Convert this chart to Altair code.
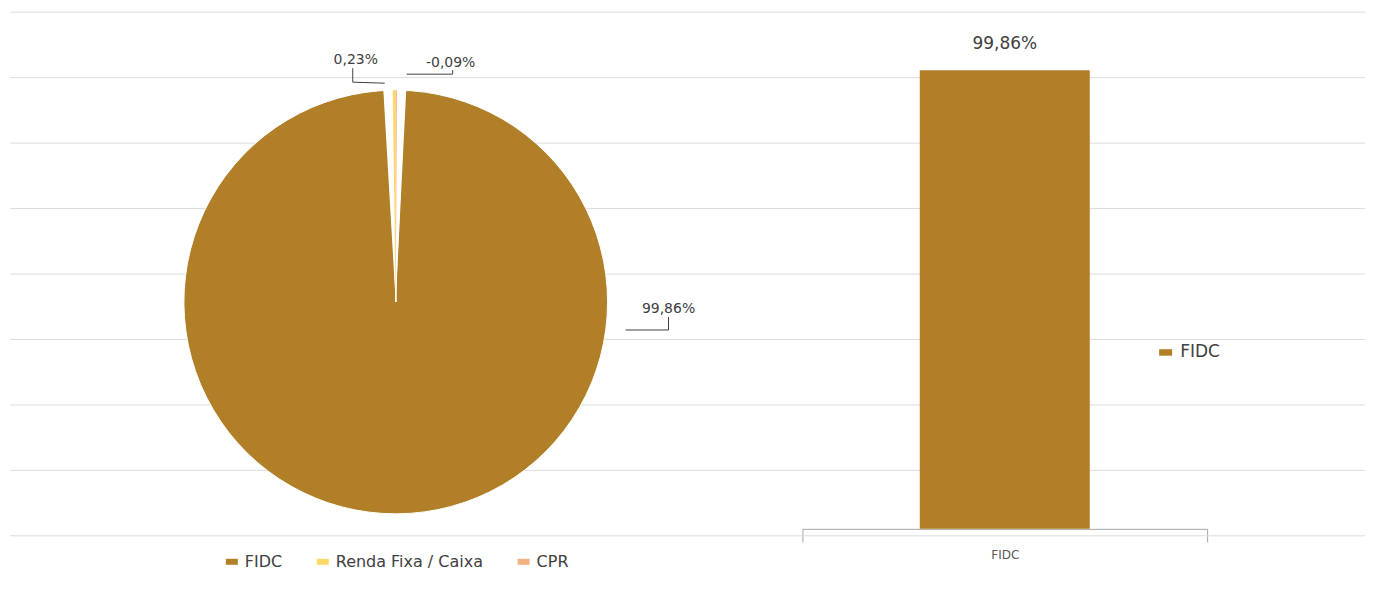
import altair as alt
import pandas as pd

# ---- data ----
categories = ["FIDC", "Renda Fixa / Caixa", "CPR"]
values = [99.86, 0.23, -0.09]
colors = ["#B07F27", "#FFD966", "#F4B183"]
slice_order = ["CPR", "FIDC", "Renda Fixa / Caixa"]   # drawing order clockwise from 12 o'clock

bar_categories = ["FIDC"]
bar_values = [99.86]

grid_levels = list(range(9))


def fmt(v):
    return f"{v:.2f}".replace(".", ",") + "%"


pie_df = pd.DataFrame({
    "cat": categories,
    "value": values,
    "label": [fmt(v) for v in values],
    "ord": [slice_order.index(c) for c in categories],
})
bar_df = pd.DataFrame({"cat": bar_categories, "value": bar_values,
                       "label": [fmt(v) for v in bar_values]})
grid_df = pd.DataFrame({"lvl": grid_levels})
total = float(sum(abs(v) for v in values))

FONT = "DejaVu Sans"
TXT = "#404040"
W, H = 1360, 521
CX, CY, R = 388, 294, 212
GAP = 0.7  # angular white margin around the tiny slices (in value units)

color_scale = alt.Scale(domain=categories, range=colors)

# ---- gridlines (background) ----
grid = alt.Chart(grid_df).mark_rule(color="#DCDCDC", strokeWidth=1).encode(
    y=alt.Y("lvl:Q", scale=alt.Scale(domain=[0, 8], range=[528, 4]), axis=None),
    x=alt.value(2), x2=alt.value(1358),
)

# ---- pie ----
base = (alt.Chart(pie_df)
        .transform_calculate(absv="abs(datum.value)")
        .transform_window(cum="sum(absv)", sort=[alt.SortField("ord")], frame=[None, 0])
        .transform_calculate(start="datum.cum - datum.absv",
                             gs=f"datum.start - {GAP}", ge=f"datum.cum + {GAP}"))

theta = alt.Theta("start:Q", scale=alt.Scale(domain=[0, total]))

pie_main = base.mark_arc(radius=R, stroke="white", strokeWidth=1).encode(
    theta=theta, theta2="cum:Q",
    x=alt.value(CX), y=alt.value(CY),
    color=alt.Color("cat:N", scale=color_scale, sort=categories, title=None,
                    legend=alt.Legend(orient="none", direction="horizontal",
                                      legendX=216, legendY=546,
                                      symbolType="M-1,-0.5H1V0.5H-1Z", symbolSize=144,
                                      symbolStrokeWidth=0,
                                      labelFontSize=16, labelColor=TXT, labelFont=FONT,
                                      labelOffset=5, columnPadding=32, padding=0)),
)
small = base.transform_filter("datum.absv < 1")
pie_gap = small.mark_arc(radius=R + 4, fill="white", strokeWidth=0).encode(
    theta=alt.Theta("gs:Q", scale=alt.Scale(domain=[0, total])), theta2="ge:Q",
    x=alt.value(CX), y=alt.value(CY),
)
pie_small = small.mark_arc(radius=R, strokeWidth=0).encode(
    theta=theta, theta2="cum:Q", x=alt.value(CX), y=alt.value(CY),
    color=alt.Color("cat:N", scale=color_scale, legend=None),
)

label_offsets = {"Renda Fixa / Caixa": (-40, -238), "CPR": (55, -235), "FIDC": (273, 11)}
label_layers = []
for cat, (dx, dy) in label_offsets.items():
    label_layers.append(
        alt.Chart(pie_df).transform_filter(alt.datum.cat == cat)
        .mark_text(dx=dx, dy=dy, fontSize=14, font=FONT, color=TXT,
                   align="center", baseline="alphabetic")
        .encode(text="label:N", x=alt.value(CX), y=alt.value(CY))
    )

one = pd.DataFrame({"k": [0]})


def seg(x1, y1, x2, y2):
    return alt.Chart(one).mark_rule(color=TXT, strokeWidth=1).encode(
        x=alt.value(CX + x1), y=alt.value(CY + y1),
        x2=alt.value(CX + x2), y2=alt.value(CY + y2))


leaders = [
    seg(-43, -234, -43, -220), seg(-43, -220, -11, -219),
    seg(57, -232, 57, -228), seg(11, -228, 57, -228),
    seg(273, 15, 273, 28), seg(230, 28, 273, 28),
]

pie = alt.layer(pie_main, pie_gap, pie_small, *label_layers, *leaders)

# ---- bar ----
xb = alt.X("cat:N", title=None,
           scale=alt.Scale(range=[795, 1200], paddingInner=0, paddingOuter=0),
           axis=alt.Axis(labelAngle=0, tickBand="extent", tickSize=13,
                         tickColor="#A6A6A6", domainColor="#A6A6A6",
                         labelFontSize=12, labelColor="#595959", labelFont=FONT,
                         labelPadding=8, grid=False))
yb = alt.Y("value:Q", scale=alt.Scale(domain=[0, 113.35]), axis=None)

bar = alt.Chart(bar_df).mark_bar(width=alt.RelativeBandSize(0.42)).encode(
    x=xb, y=yb,
    color=alt.Color("cat:N", scale=alt.Scale(domain=bar_categories, range=[colors[0]]),
                    title=None,
                    legend=alt.Legend(orient="none", legendX=1150, legendY=336,
                                      symbolType="M-1,-0.5H1V0.5H-1Z", symbolSize=169,
                                      symbolStrokeWidth=0,
                                      labelFontSize=17, labelColor=TXT, labelFont=FONT,
                                      labelOffset=6, padding=0)),
)
bar_text = alt.Chart(bar_df).mark_text(dy=-21, fontSize=17, font=FONT, color=TXT,
                                       baseline="alphabetic").encode(
    x=xb, y=yb, text="label:N")

bars = alt.layer(bar, bar_text)

chart = (alt.layer(grid, pie, bars)
         .resolve_scale(y="independent", color="independent")
         .properties(width=W, height=H,
                     padding={"left": 0, "top": 0, "right": 0, "bottom": 20})
         .configure(font=FONT)
         .configure_view(strokeWidth=0, stroke="transparent"))

chart.save("out.html", embed_options={"renderer": "svg", "actions": False})
